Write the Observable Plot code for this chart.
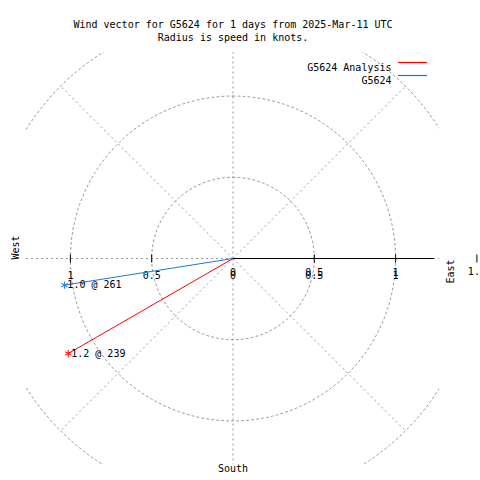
<!DOCTYPE html>
<html>
<head>
<meta charset="utf-8">
<script src="https://cdn.jsdelivr.net/npm/d3@7"></script>
<script src="https://cdn.jsdelivr.net/npm/@observablehq/plot@0.6"></script>
<style>
  html, body { margin: 0; padding: 0; background: #fff; }
  #chart { width: 480px; height: 480px; }
</style>
</head>
<body>
<div id="chart"></div>
<script>
// ---- data ----
const titleLines = ["Wind vector for G5624 for 1 days from 2025-Mar-11 UTC", "Radius is speed in knots."];
const series = ["G5624 Analysis", "G5624"];
const speeds = [1.17, 1.05];          // knots (radius)
const directions = [240, 261];        // compass degrees
const pointLabels = ["1.2 @ 239", "1.0 @ 261"];
const colors = ["#ff0000", "#1a78dc"];
const gridRadii = [0.5, 1, 1.5];
const spokeAngles = [0, 45, 90, 135, 180, 225, 270, 315];
const leftTicks = [-1, -0.5];
const rightTicks = [0, 0.5, 1];
const outerTick = [1.5];
const compassLabels = ["West", "East", "South"];

// ---- helpers ----
const rad = d => d * Math.PI / 180;
const px = (r, a) => r * Math.sin(rad(a));
const py = (r, a) => r * Math.cos(rad(a));

const vectors = series.map((s, i) => ({
  series: s, speed: speeds[i], dir: directions[i], label: pointLabels[i], color: colors[i]
}));

const circlePts = gridRadii.flatMap(r => d3.range(0, 361, 2).map(a => ({r, a})));
const spokes = spokeAngles.map(a => ({a, r: 1.5}));
const tickLen = 0.025;
const fmt = v => String(Math.abs(v));

const grey = "#999999";
const dash = "2,3";

function legend(index, scales, values, dimensions) {
  const dims = [index, scales, values, dimensions].find(o => o && o.width !== undefined && o.marginRight !== undefined) || dimensions;
  const right = dims.width - dims.marginRight;
  const top = dims.marginTop;
  const g = d3.create("svg:g");
  series.forEach((s, i) => {
    const y = top + 10 + i * 13;
    g.append("line")
      .attr("x1", right - 41).attr("x2", right - 12)
      .attr("y1", y + 0.5).attr("y2", y + 0.5)
      .attr("stroke", colors[i]).attr("stroke-width", 1.2);
  });
  return g.node();
}

const plot = Plot.plot({
  width: 480,
  height: 480,
  marginLeft: 26,
  marginRight: 41,
  marginTop: 52,
  marginBottom: 16,
  x: {domain: [-1.27, 1.27], axis: null},
  y: {domain: [-1.268, 1.268], axis: null},
  style: {fontFamily: "'DejaVu Sans Mono', monospace", fontSize: "10px", background: "#fff", color: "#000"},
  marks: [
    // grid circles
    Plot.line(circlePts, {x: d => px(d.r, d.a), y: d => py(d.r, d.a), z: "r", stroke: grey, strokeWidth: 1, strokeDasharray: dash, clip: true}),
    // spokes
    Plot.link(spokes, {x1: 0, y1: 0, x2: d => px(d.r, d.a), y2: d => py(d.r, d.a), stroke: grey, strokeWidth: 1, strokeDasharray: dash, clip: true}),
    // polar axis (solid)
    Plot.link([0], {x1: 0, y1: 0, x2: 1.235, y2: 0, stroke: "#000", strokeWidth: 1}),
    // tick marks
    Plot.link([...leftTicks, ...rightTicks.slice(1), ...outerTick], {x1: d => d, x2: d => d, y1: -tickLen, y2: tickLen, stroke: "#000", strokeWidth: 1}),
    // tick labels
    Plot.text(leftTicks, {x: d => d, y: 0, text: fmt, dy: 17, textAnchor: "middle", fill: "#000"}),
    Plot.text(rightTicks, {x: d => d, y: 0, text: fmt, dy: 14, textAnchor: "middle", fill: "#000"}),
    Plot.text(rightTicks, {x: d => d, y: 0, text: fmt, dy: 17, textAnchor: "middle", fill: "#000"}),
    Plot.text(outerTick, {x: d => d, y: 0, text: fmt, dy: 13, textAnchor: "middle", fill: "#000"}),
    // compass labels
    Plot.text([compassLabels[0]], {frameAnchor: "left", dx: -11, dy: 1, rotate: -90, text: d => d, fill: "#000"}),
    Plot.text([compassLabels[1]], {frameAnchor: "right", dx: 11, dy: 1, rotate: -90, text: d => d, fill: "#000"}),
    Plot.text([compassLabels[2]], {frameAnchor: "bottom", dy: 7, text: d => d, fill: "#000"}),
    // vectors
    Plot.link(vectors, {x1: 0, y1: 0, x2: d => px(d.speed, d.dir), y2: d => py(d.speed, d.dir), stroke: "color", strokeWidth: 1}),
    Plot.dot(vectors, {x: d => px(d.speed, d.dir), y: d => py(d.speed, d.dir), symbol: "asterisk", r: 3.5, stroke: "color", strokeWidth: 1}),
    Plot.text(vectors, {x: d => px(d.speed, d.dir), y: d => py(d.speed, d.dir), text: "label", textAnchor: "start", dx: 3, fill: "#000"}),
    // title
    Plot.text([titleLines[0]], {frameAnchor: "top", dy: -32, text: d => d, fill: "#000"}),
    Plot.text([titleLines[1]], {frameAnchor: "top", dy: -19, text: d => d, fill: "#000"}),
    // legend text
    Plot.text([series[0]], {frameAnchor: "top-right", dx: -48, dy: 11, text: d => d, textAnchor: "end", fill: "#000"}),
    Plot.text([series[1]], {frameAnchor: "top-right", dx: -48, dy: 24, text: d => d, textAnchor: "end", fill: "#000"}),
    legend
  ]
});
document.getElementById("chart").appendChild(plot);
</script>
</body>
</html>
